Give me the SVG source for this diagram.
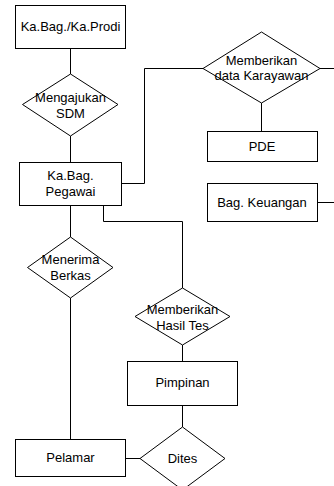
<svg xmlns="http://www.w3.org/2000/svg" width="334" height="486" viewBox="0 0 334 486">
<style>
.n{fill:#fff;stroke:#000;stroke-width:1}
.c{fill:none;stroke:#000;stroke-width:1}
text{font-family:"Liberation Sans",Arial,sans-serif;font-size:13px;fill:#000;text-anchor:middle}
</style>
<rect width="334" height="486" fill="#fff"/>
<g id="connectors">
<path class="c" d="M70.5 48V74"/>
<path class="c" d="M70.5 136V162"/>
<path class="c" d="M121 183.5H144.5V68.5H203"/>
<path class="c" d="M320 68.5H334"/>
<path class="c" d="M261.5 103V131"/>
<path class="c" d="M317 202.5H334"/>
<path class="c" d="M70.5 205V237"/>
<path class="c" d="M103.5 205V221.5H182.5V288"/>
<path class="c" d="M70.5 298V439"/>
<path class="c" d="M182.5 345V361"/>
<path class="c" d="M182.5 405V427"/>
<path class="c" d="M125 458.5H140"/>
</g>
<g id="kabag-kaprodi"><rect class="n" x="15.5" y="5.5" width="110" height="43"/><text x="70.5" y="31">Ka.Bag./Ka.Prodi</text></g>
<g id="mengajukan"><polygon class="n" points="70.5,74 118,104.5 70.5,136 22.5,104.5"/><text x="70.5" y="102">Mengajukan</text><text x="70.5" y="118">SDM</text></g>
<g id="memberikan-data"><polygon class="n" points="261.5,32 320,68.5 261.5,103 203,68.5"/><text x="261.5" y="64.5">Memberikan</text><text x="261.5" y="80">data Karayawan</text></g>
<g id="pde"><rect class="n" x="207.5" y="131.5" width="110" height="30"/><text x="262" y="151">PDE</text></g>
<g id="kabag-pegawai"><rect class="n" x="19.5" y="162.5" width="102" height="43"/><text x="70.5" y="179.5">Ka.Bag.</text><text x="70.5" y="196">Pegawai</text></g>
<g id="bag-keuangan"><rect class="n" x="207.5" y="183.5" width="110" height="38"/><text x="262" y="207">Bag. Keuangan</text></g>
<g id="menerima"><polygon class="n" points="70.5,237 113,267.5 70.5,298 27.5,267.5"/><text x="70.5" y="264">Menerima</text><text x="70.5" y="280">Berkas</text></g>
<g id="memberikan-hasil"><polygon class="n" points="182.5,288 230,316.5 182.5,345 135,316.5"/><text x="182.5" y="313.5">Memberikan</text><text x="182.5" y="329.5">Hasil Tes</text></g>
<g id="pimpinan"><rect class="n" x="127.5" y="361.5" width="110" height="44"/><text x="182.5" y="387">Pimpinan</text></g>
<g id="pelamar"><rect class="n" x="15.5" y="439.5" width="110" height="37"/><text x="70.5" y="462">Pelamar</text></g>
<g id="dites"><polygon class="n" points="182.5,427 225,458.5 182.5,490 140,458.5"/><text x="182.5" y="462.5">Dites</text></g>
</svg>
